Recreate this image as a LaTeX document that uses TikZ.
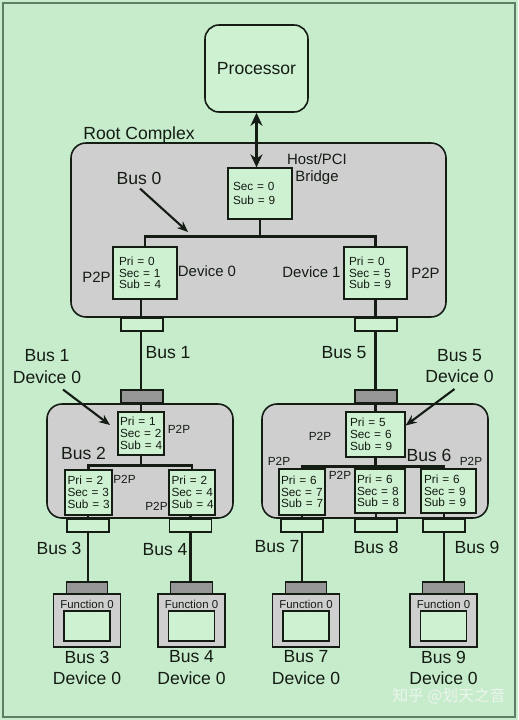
\documentclass[tikz,border=0pt]{standalone}
\usepackage{fontspec}
\setmainfont{Liberation Sans}
\newfontfamily\cjkfont{Noto Sans CJK SC}
\usetikzlibrary{arrows.meta,calc,backgrounds}
\definecolor{bggreen}{RGB}{199,236,204}
\definecolor{regfill}{RGB}{206,241,209}
\definecolor{cgray}{RGB}{207,207,207}
\definecolor{tabdark}{RGB}{150,150,150}
\definecolor{wire}{RGB}{20,28,20}
\definecolor{framec}{RGB}{95,125,100}
\definecolor{markc}{RGB}{236,244,236}
\pgfdeclarelayer{wires}
\pgfsetlayers{background,wires,main}
\tikzset{
  cont/.style 2 args={draw=wire, fill=cgray, line width=0.9pt, rounded corners=0.3cm,
              minimum width=#1*0.02cm, minimum height=#2*0.02cm, inner sep=0pt},
  regs/.style n args={3}{draw=wire, fill=regfill, line width=0.7pt, minimum width=#1*0.02cm,
              minimum height=#2*0.02cm, text width=#1*0.02cm-2*#3*0.02cm, inner xsep=#3*0.02cm,
              inner ysep=0pt, align=left, text=wire, font=\fontsize{6.7}{6.7}\selectfont},
  tabup/.style={draw=wire, fill=regfill, line width=0.7pt, minimum width=0.84cm,
              minimum height=0.26cm, inner sep=0pt},
  tabdn/.style={tabup, fill=tabdark},
  lbl/.style={font=\fontsize{10}{12}\selectfont, text=wire, inner sep=0pt, align=center},
  mid/.style={font=\fontsize{8.5}{10}\selectfont, text=wire, inner sep=0pt, align=center},
  sml/.style={font=\fontsize{6.7}{8}\selectfont, text=wire, inner sep=0pt},
  bus/.style={wire, line width=1.4pt},
  ann/.style={wire, line width=1.2pt, -{Stealth[length=0.22cm,width=0.18cm]}},
}
\begin{document}
\begin{tikzpicture}[x=0.02cm, y=-0.02cm]
  \useasboundingbox (0,0) rectangle (518,720);
  % frame and containers
  \begin{scope}[on background layer]
    \fill[bggreen] (0,0) rectangle (518,720);
    \draw[framec, line width=0.8pt] (3,3) rectangle (515,717);
    \node[cont={375}{174}] (root) at (258.5,230) {};
    \node[cont={186}{114}] (lsub) at (140,461) {};
    \node[cont={226}{114}] (rsub) at (375,461) {};
  \end{scope}
  \node[cont={103}{87}, fill=regfill, rounded corners=0.28cm, font=\fontsize{10}{12}\selectfont,
        text=wire] (proc) at (256.5,68.5) {Processor};
  \node[lbl, anchor=west] (rootlbl) at (83,135) {Root Complex};
  % root complex
  \node[regs={64}{51}{5}, font=\fontsize{6.7}{8.1}\selectfont] (host) at (260,193.5) {Sec~=~0\\Sub~=~9};
  \node[mid] (hostlbl) at (317,169) {Host/PCI\\Bridge};
  \node[lbl] (bus0lbl) at (139,178) {Bus 0};
  \node[regs={64}{52}{6}] (d0) at (145,273) {Pri~=~0\\Sec~=~1\\Sub~=~4};
  \node[regs={63}{52}{5}] (d1) at (375.5,273) {Pri~=~0\\Sec~=~5\\Sub~=~9};
  \node[mid] (d0p2p) at (96.5,277) {P2P};
  \node[mid] (d0lbl) at (207,271) {Device 0};
  \node[mid] (d1lbl) at (311.5,272) {Device 1};
  \node[mid] (d1p2p) at (425.5,273) {P2P};
  % links to the switches
  \node[tabup] (t1u) at (142,324.5) {};
  \node[tabdn] (t1d) at (142,396.5) {};
  \node[tabup] (t5u) at (376,324.5) {};
  \node[tabdn] (t5d) at (376,396.5) {};
  \node[lbl] (bus1lbl) at (168,353) {Bus 1};
  \node[lbl] (bus5lbl) at (344,353) {Bus 5};
  \node[lbl] (b1lbl) at (47,366.5) {Bus 1\\Device 0};
  \node[lbl] (b5lbl) at (459.5,366) {Bus 5\\Device 0};
  % left switch
  \node[regs={46}{43}{2}] (b1) at (141,433.5) {Pri~=~1\\Sec~=~2\\Sub~=~4};
  \node[sml] (b1p2p) at (179,429) {P2P};
  \node[lbl] (bus2lbl) at (83.5,453) {Bus 2};
  \node[regs={47}{45}{2.5}] (b2l) at (88.5,492.5) {Pri~=~2\\Sec~=~3\\Sub~=~3};
  \node[regs={46}{45}{2.5}] (b2r) at (192,492.5) {Pri~=~2\\Sec~=~4\\Sub~=~4};
  \node[sml] (b2lp2p) at (124.5,479) {P2P};
  \node[sml] (b2rp2p) at (156.5,506) {P2P};
  % right switch
  \node[regs={59}{45}{4}] (b5) at (375.5,434.5) {Pri~=~5\\Sec~=~6\\Sub~=~9};
  \node[sml] (b5p2p) at (320,436) {P2P};
  \node[lbl] (bus6lbl) at (429,455) {Bus 6};
  \node[regs={46}{46}{2}] (b6a) at (302,492) {Pri~=~6\\Sec~=~7\\Sub~=~7};
  \node[regs={50}{44}{2}] (b6b) at (380,491) {Pri~=~6\\Sec~=~8\\Sub~=~8};
  \node[regs={55}{44}{3}] (b6c) at (448.5,491) {Pri~=~6\\Sec~=~9\\Sub~=~9};
  \node[sml] (b6ap2p) at (279,461) {P2P};
  \node[sml] (b6bp2p) at (340,475) {P2P};
  \node[sml] (b6cp2p) at (471,461) {P2P};
  % ports below the switches
  \node[tabup] (t3) at (88,525.5) {};
  \node[tabup] (t4) at (190.5,525.5) {};
  \node[tabup] (t7) at (302,525.5) {};
  \node[tabup] (t8) at (376,525.5) {};
  \node[tabup] (t9) at (444,525.5) {};
  \node[lbl] (bus3lbl) at (59,548) {Bus 3};
  \node[lbl] (bus4lbl) at (165,550) {Bus 4};
  \node[lbl] (bus7lbl) at (277,547) {Bus 7};
  \node[lbl] (bus8lbl) at (376,547) {Bus 8};
  \node[lbl] (bus9lbl) at (477,547) {Bus 9};
  % endpoint functions
  \foreach \x/\n in {87/3, 191.5/4, 306/7, 443.5/9} {
    \node[tabdn, minimum width=0.83cm, minimum height=0.24cm] (f\n t) at (\x,588) {};
    \node[cont={67}{53}, rounded corners=0pt, line width=0.7pt] (f\n) at (\x,620.5) {};
    \node[sml, font=\fontsize{6.5}{8}\selectfont] (f\n txt) at (\x,604) {Function 0};
    \node[tabup, minimum width=0.92cm, minimum height=0.6cm] (f\n w) at (\x,626) {};
    \node[lbl] (f\n lbl) at (\x,667.5) {Bus \n\\Device 0};
  }
  \node[font=\cjkfont\fontsize{9}{10}\selectfont, text=markc] (zhmark) at (449,696) {知乎 @划天之音};
  % wiring
  \coordinate (bus0l) at ($(d0.north)+(0,-10)$);
  \coordinate (bus0r) at ($(d1.north)+(0,-10)$);
  \coordinate (bus2) at ($(b1.south)+(0,10)$);
  \coordinate (bus6) at ($(b5.south)+(0,9)$);
  \coordinate (bus0tip) at (188,232);
  \coordinate (b1tip) at (110,425);
  \coordinate (b5tip) at ($(b5.east)+(0,-9)$);
  \begin{pgfonlayer}{wires}
    \draw[bus] (d0.north) -- (bus0l) -- (bus0r) -- (d1.north);
    \draw[bus] (host.south) -- (host.south |- bus0l);
    \draw[bus] (b1.north |- d0.south) -- (b1.north);
    \draw[bus] (b5.north |- d1.south) -- (b5.north);
    \draw[bus] (b1.south) -- (bus2);
    \draw[bus] (b2l.north) |- (bus2) -| (b2r.north);
    \draw[bus] (b5.south) -- (b5.south |- b6b.north);
    \draw[bus] (b6a.north) |- (bus6) -| (t9.center |- b6c.north);
    \draw[bus] (t3.center |- b2l.south) -- (t3.center |- f3t.north);
    \draw[bus] (t4.center |- b2r.south) -- (t4.center |- f4t.north);
    \draw[bus] (t7.center |- b6a.south) -- (t7.center |- f7t.north);
    \draw[bus] (t8.center |- b6b.south) -- (t8.center);
    \draw[bus] (t9.center |- b6c.south) -- (t9.center |- f9t.north);
  \end{pgfonlayer}
  \draw[wire, line width=1.7pt, {Stealth[length=0.26cm,width=0.24cm]}-{Stealth[length=0.26cm,width=0.24cm]}]
    (proc.south) -- (proc.south |- host.north);
  \draw[ann] ($(bus0lbl.south)+(1,4)$) -- (bus0tip);
  \draw[ann] ($(b1lbl.south)+(16,6)$) -- (b1tip);
  \draw[ann] ($(b5lbl.south)+(-5,6)$) -- (b5tip);
\end{tikzpicture}
\end{document}
